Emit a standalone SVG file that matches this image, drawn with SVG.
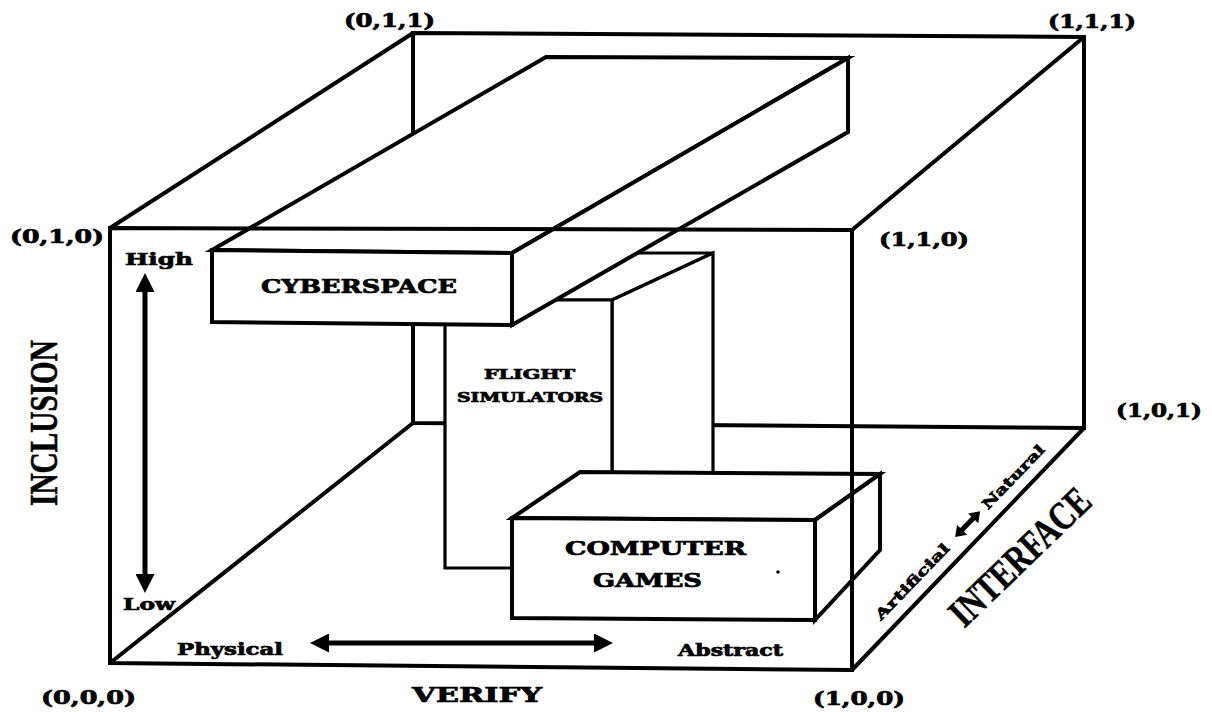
<svg xmlns="http://www.w3.org/2000/svg" width="1212" height="712" viewBox="0 0 1212 712">
<defs>
<style>
.e{fill:none;stroke:#000;stroke-width:4;stroke-linejoin:miter}
.f{fill:#fff;stroke:#000;stroke-width:4;stroke-linejoin:miter}
.f3{fill:#fff;stroke:#000;stroke-width:3.2;stroke-linejoin:miter}
.t{font-family:"DejaVu Serif","Liberation Serif",serif;font-weight:bold;fill:#000;stroke:#000;stroke-width:0.7}
.big{font-family:"Liberation Serif","Times New Roman",serif;font-weight:bold;fill:#000;font-size:40px;stroke:#000;stroke-width:0.6}
.ar{stroke:#000;stroke-width:5;fill:none}
</style>
<marker id="ah" viewBox="0 0 19 19" markerUnits="userSpaceOnUse" markerWidth="19" markerHeight="19" refX="11" refY="9.5" orient="auto-start-reverse">
<path d="M0,0 L19,9.5 L0,19 Z" fill="#000"/>
</marker>
</defs>
<rect width="1212" height="712" fill="#fff"/>

<g id="cube-back">
<path class="e" d="M413,423 L413,33 L1084,37 L1084,428 L413,423"/>
<path class="e" d="M110,663 L413,423 M852,670 L1084,428"/>
</g>

<g id="flight-simulators">
<polygon class="f3" points="445,300 546,253 713,253 612,300"/>
<polygon class="f3" points="612,300 713,253 713,521 612,568"/>
<polygon class="f3" points="445,300 612,300 612,568 445,568"/>
<text class="t" x="484" y="379" font-size="13" textLength="91" lengthAdjust="spacingAndGlyphs">FLIGHT</text>
<text class="t" x="457" y="402" font-size="13" textLength="146" lengthAdjust="spacingAndGlyphs">SIMULATORS</text>
</g>

<g id="cyberspace">
<polygon class="f" points="212,250 546,57 848,58 512,253"/>
<polygon class="f" points="512,253 848,58 848,132 512,325"/>
<polygon class="f" points="212,250 512,253 512,325 212,322"/>
<text class="t" x="261" y="293" font-size="18" textLength="196" lengthAdjust="spacingAndGlyphs">CYBERSPACE</text>
</g>

<g id="computer-games">
<polygon class="f" points="512,518 580,472 880,474 815,520"/>
<polygon class="f" points="815,520 880,474 880,550 815,620"/>
<polygon class="f" points="512,518 815,520 815,620 512,618"/>
<text class="t" x="565" y="555" font-size="18" textLength="181" lengthAdjust="spacingAndGlyphs">COMPUTER</text>
<text class="t" x="593" y="587" font-size="18" textLength="109" lengthAdjust="spacingAndGlyphs">GAMES</text>
<circle cx="778" cy="572" r="1.8" fill="#000"/>
</g>

<g id="cube-front">
<path class="e" d="M110,228 L852,230 L852,670 L110,663 Z"/>
<path class="e" d="M110,228 L413,33 M852,230 L1084,37"/>
</g>

<g id="connectors">
<line class="ar" x1="145" y1="281" x2="145" y2="585" marker-start="url(#ah)" marker-end="url(#ah)"/>
<line class="ar" x1="318" y1="643" x2="605" y2="643" marker-start="url(#ah)" marker-end="url(#ah)"/>
</g>

<g id="labels">
<text class="t" x="344" y="27" font-size="18" textLength="91" lengthAdjust="spacingAndGlyphs">(0,1,1)</text>
<text class="t" x="1048" y="28" font-size="18" textLength="88" lengthAdjust="spacingAndGlyphs">(1,1,1)</text>
<text class="t" x="10" y="243" font-size="18" textLength="94" lengthAdjust="spacingAndGlyphs">(0,1,0)</text>
<text class="t" x="879" y="246" font-size="18" textLength="90" lengthAdjust="spacingAndGlyphs">(1,1,0)</text>
<text class="t" x="1116" y="417" font-size="18" textLength="86" lengthAdjust="spacingAndGlyphs">(1,0,1)</text>
<text class="t" x="41" y="704" font-size="18" textLength="95" lengthAdjust="spacingAndGlyphs">(0,0,0)</text>
<text class="t" x="813" y="705" font-size="18" textLength="92" lengthAdjust="spacingAndGlyphs">(1,0,0)</text>
<text class="t" x="125" y="265" font-size="17" textLength="68" lengthAdjust="spacingAndGlyphs">High</text>
<text class="t" x="123" y="610" font-size="17" textLength="52" lengthAdjust="spacingAndGlyphs">Low</text>
<text class="t" x="177" y="655" font-size="16" textLength="106" lengthAdjust="spacingAndGlyphs">Physical</text>
<text class="t" x="678" y="656" font-size="16" textLength="105" lengthAdjust="spacingAndGlyphs">Abstract</text>
<text class="t" x="412" y="702" font-size="20" textLength="130" lengthAdjust="spacingAndGlyphs">VERIFY</text>
<text class="big" transform="translate(57,423) rotate(-90)" text-anchor="middle" textLength="166" lengthAdjust="spacingAndGlyphs">INCLUSION</text>
<text class="big" transform="translate(1020,557) rotate(-44)" x="0" y="13" text-anchor="middle" textLength="180" lengthAdjust="spacingAndGlyphs">INTERFACE</text>
<g transform="translate(960,532) rotate(-46)">
<text class="t" x="-119" y="5" font-size="14" textLength="100" lengthAdjust="spacingAndGlyphs">Artificial</text>
<path d="M-7,0 L3,-7 L3,-2.5 L19,-2.5 L19,-7 L29,0 L19,7 L19,2.5 L3,2.5 L3,7 Z" fill="#000"/>
<text class="t" x="35" y="5" font-size="14" textLength="83" lengthAdjust="spacingAndGlyphs">Natural</text>
</g>
</g>
</svg>
